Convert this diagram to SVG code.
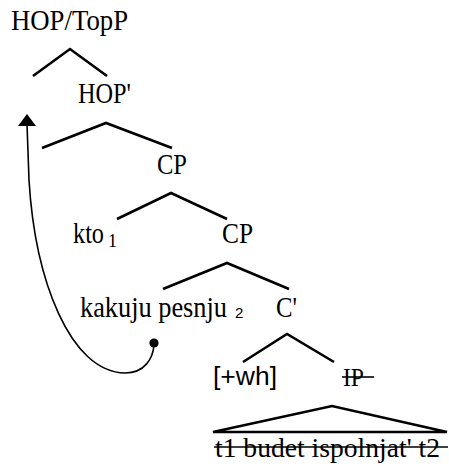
<svg xmlns="http://www.w3.org/2000/svg" width="449" height="466" viewBox="0 0 449 466">
  <defs>
    <style>
      .lbl { font-family: "Liberation Serif", "Times New Roman", serif; font-size: 30px; fill: #000; }
      .sans { font-family: "Liberation Sans", Arial, sans-serif; fill: #000; }
      .branch { fill: none; stroke: #000; stroke-width: 2.6; stroke-linejoin: miter; }
      .move { fill: none; stroke: #000; stroke-width: 1.6; }
      .strike { stroke: #000; stroke-width: 1.6; }
    </style>
  </defs>
  <rect width="449" height="466" fill="#fff"/>

  <g id="connectors">
    <polyline class="branch" points="33,76 70,49 107,76"/>
    <polyline class="branch" points="42,148 106,123 172,148"/>
    <polyline class="branch" points="117,219 171,193 227,219"/>
    <polyline class="branch" points="163,289 227,263 289,289"/>
    <polyline class="branch" points="243,362 287,334 334,362"/>
    <polygon class="branch" points="213,432 332,406 447,432"/>
    <path class="move" d="M27,124 L29,180 C35,280 70,372 125,373 C145,373 153,358 154,345"/>
    <polygon points="27,114 18,126 36,126" fill="#000"/>
    <circle cx="154" cy="343" r="4.6" fill="#000"/>
  </g>

  <g id="node-hoptopp">
    <text class="lbl" x="11" y="30" textLength="117" lengthAdjust="spacingAndGlyphs">HOP/TopP</text>
  </g>
  <g id="node-hopbar">
    <text class="lbl" x="78" y="103" textLength="53" lengthAdjust="spacingAndGlyphs">HOP'</text>
  </g>
  <g id="node-cp1">
    <text class="lbl" x="157" y="174" textLength="30" lengthAdjust="spacingAndGlyphs">CP</text>
  </g>
  <g id="node-kto">
    <text class="lbl" y="243"><tspan x="73" textLength="31" lengthAdjust="spacingAndGlyphs">kto</tspan><tspan x="108" y="247" style="font-size:18px">1</tspan></text>
  </g>
  <g id="node-cp2">
    <text class="lbl" x="222" y="243" textLength="31" lengthAdjust="spacingAndGlyphs">CP</text>
  </g>
  <g id="node-kakuju">
    <text class="lbl" y="317"><tspan x="80" textLength="147" lengthAdjust="spacingAndGlyphs">kakuju pesnju</tspan><tspan class="sans" x="235" y="318" style="font-size:15px">2</tspan></text>
  </g>
  <g id="node-cbar">
    <text class="lbl" x="276" y="317" textLength="21" lengthAdjust="spacingAndGlyphs">C'</text>
  </g>
  <g id="node-wh">
    <text class="sans" x="213" y="385" style="font-size:26px" textLength="64" lengthAdjust="spacingAndGlyphs">[+wh]</text>
  </g>
  <g id="node-ip">
    <text class="lbl" x="343" y="386" style="font-size:25px" textLength="21" lengthAdjust="spacingAndGlyphs">IP</text>
    <line class="strike" x1="342" y1="377" x2="374" y2="377"/>
  </g>
  <g id="node-terminal">
    <text class="lbl" x="215" y="457" style="font-size:28px" textLength="225" lengthAdjust="spacingAndGlyphs">t1 budet ispolnjat' t2</text>
    <line class="strike" x1="214" y1="447" x2="448" y2="447"/>
  </g>
</svg>
